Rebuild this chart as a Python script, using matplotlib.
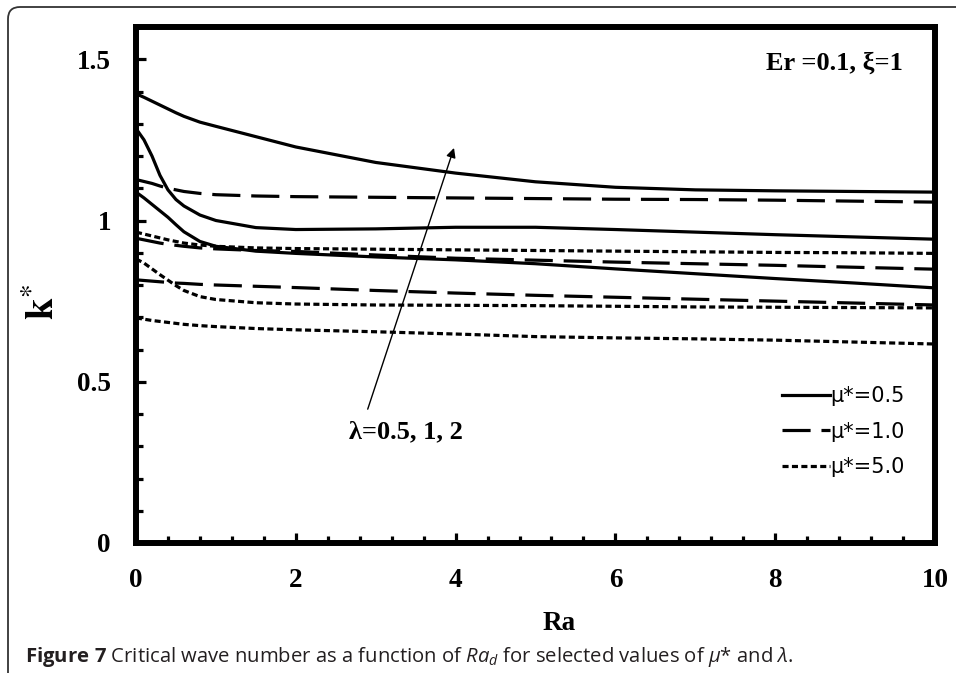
import numpy as np
import matplotlib
matplotlib.use("Agg")
import matplotlib.pyplot as plt
from matplotlib.patches import FancyBboxPatch
from matplotlib.transforms import IdentityTransform
from matplotlib.ticker import MultipleLocator

# Critical wave number k* versus Ra for mu* = 0.5, 1.0, 5.0 and lambda = 0.5, 1, 2
ra = [0, 0.1, 0.2, 0.3, 0.4, 0.5, 0.6, 0.8, 1.0, 1.5, 2, 3, 4, 5, 6, 7, 8, 9, 10]

# mu* = 0.5 (solid)
mu05_lam05 = [1.088, 1.070, 1.050, 1.030, 1.010, 0.987, 0.965, 0.935, 0.920, 0.905,
              0.898, 0.887, 0.878, 0.866, 0.850, 0.835, 0.820, 0.806, 0.791]
mu05_lam1 = [1.285, 1.250, 1.200, 1.140, 1.095, 1.065, 1.045, 1.017, 1.000, 0.978,
             0.972, 0.974, 0.979, 0.979, 0.972, 0.964, 0.956, 0.949, 0.942]
mu05_lam2 = [1.393, 1.382, 1.370, 1.358, 1.346, 1.334, 1.323, 1.305, 1.292, 1.260,
             1.228, 1.180, 1.147, 1.120, 1.103, 1.095, 1.092, 1.090, 1.088]

# mu* = 1.0 (dashed)
mu10_lam05 = [0.816, 0.814, 0.812, 0.810, 0.808, 0.806, 0.805, 0.802, 0.800, 0.796,
              0.792, 0.783, 0.775, 0.768, 0.762, 0.756, 0.750, 0.744, 0.738]
mu10_lam1 = [0.945, 0.940, 0.935, 0.930, 0.926, 0.923, 0.920, 0.915, 0.912, 0.907,
             0.904, 0.893, 0.883, 0.877, 0.871, 0.866, 0.861, 0.855, 0.849]
mu10_lam2 = [1.127, 1.121, 1.115, 1.107, 1.100, 1.095, 1.090, 1.084, 1.080, 1.076,
             1.074, 1.072, 1.070, 1.068, 1.066, 1.065, 1.063, 1.060, 1.057]

# mu* = 5.0 (dotted)
mu50_lam05 = [0.698, 0.694, 0.690, 0.687, 0.684, 0.681, 0.678, 0.674, 0.671, 0.665,
              0.661, 0.655, 0.648, 0.640, 0.636, 0.633, 0.629, 0.623, 0.617]
mu50_lam1 = [0.881, 0.868, 0.850, 0.832, 0.815, 0.798, 0.783, 0.764, 0.755, 0.745,
             0.741, 0.738, 0.737, 0.736, 0.734, 0.732, 0.731, 0.730, 0.729]
mu50_lam2 = [0.964, 0.958, 0.952, 0.946, 0.940, 0.935, 0.930, 0.924, 0.920, 0.915,
             0.913, 0.911, 0.909, 0.907, 0.905, 0.903, 0.901, 0.900, 0.898]

legend_labels = ["\u03bc*=0.5", "\u03bc*=1.0", "\u03bc*=5.0"]

plt.rcParams["mathtext.fontset"] = "custom"
plt.rcParams["mathtext.rm"] = "Open Sans"
plt.rcParams["mathtext.it"] = "Open Sans:italic"
plt.rcParams["mathtext.bf"] = "Open Sans:bold"

serif = "Liberation Serif"

fig = plt.figure(figsize=(9.56, 6.73), dpi=100)
ax = fig.add_axes([136 / 956, 1 - 543 / 673, (935 - 136) / 956, (543 - 27) / 673])

lw = 2.3
solid = dict(color="black", lw=lw, linestyle="-")
dashed = dict(color="black", lw=lw, linestyle=(0, (8.8, 3.4)))
dotted = dict(color="black", lw=lw, linestyle=(0, (1.9, 1.05)))

ax.plot(ra, mu05_lam05, **solid, label=legend_labels[0])
ax.plot(ra, mu05_lam1, **solid)
ax.plot(ra, mu05_lam2, **solid)
ax.plot(ra, mu10_lam05, **dashed, label=legend_labels[1])
ax.plot(ra, mu10_lam1, **dashed)
ax.plot(ra, mu10_lam2, **dashed)
ax.plot(ra, mu50_lam05, **dotted, label=legend_labels[2])
ax.plot(ra, mu50_lam1, **dotted)
ax.plot(ra, mu50_lam2, **dotted)

ax.set_xlim(0, 10)
ax.set_ylim(0, 1.6)
ax.xaxis.set_major_locator(MultipleLocator(2))
ax.xaxis.set_minor_locator(MultipleLocator(0.4))
ax.yaxis.set_minor_locator(MultipleLocator(0.1))
ax.set_yticks([0, 0.5, 1, 1.5])
ax.set_yticklabels(["0", "0.5", "1", "1.5"])

for sp in ax.spines.values():
    sp.set_linewidth(4.3)
ax.tick_params(which="both", direction="in", top=False, right=False, width=2.3)
ax.tick_params(which="major", length=7.5)
ax.tick_params(which="minor", length=5)
ax.tick_params(axis="y", which="major", pad=18)
ax.tick_params(axis="x", which="major", pad=18)
for lab in ax.get_xticklabels() + ax.get_yticklabels():
    lab.set_fontfamily(serif)
    lab.set_fontweight("bold")
    lab.set_fontsize(19.5)

# axis titles
fig.text(43, 673 - 302, r"$\mathbf{k}^{*}$", transform=IdentityTransform(),
         rotation=90, fontsize=28, ha="center", va="center",
         math_fontfamily="stix")
fig.text(559, 673 - 624, "Ra", transform=IdentityTransform(), fontsize=19.5,
         family=serif, fontweight="bold", ha="center", va="center")

ax.text(0.96, 0.93, "Er =0.1, \u03be=1", transform=ax.transAxes, fontsize=19,
        family=serif, fontweight="bold", ha="right", va="center")

ax.annotate("", xy=(3.98, 1.225), xytext=(2.9, 0.415),
            arrowprops=dict(arrowstyle="-|>", color="black", lw=1.0,
                            mutation_scale=14, shrinkA=0, shrinkB=0))
ax.text(3.375, 0.345, "\u03bb=0.5, 1, 2", fontsize=19, family=serif,
        fontweight="bold", ha="center", va="center")

leg = ax.legend(loc="upper left", bbox_to_anchor=(0.808, 0.304), frameon=False,
                prop=dict(family="DejaVu Sans", size=15), handlelength=2.3,
                handletextpad=0.05, labelspacing=0.75, borderpad=0,
                borderaxespad=0)

# page frame with rounded top-left corner
frame = FancyBboxPatch((8, -60), 1100, 673 - 7 + 60,
                       boxstyle="round,pad=0,rounding_size=12",
                       transform=IdentityTransform(), fill=False,
                       edgecolor="#333333", lw=1.3)
fig.patches.append(frame)

fig.text(25, 673 - 657,
         r"$\mathbf{Figure\ 7}$ Critical wave number as a function of $Ra_d$"
         r" for selected values of $\mu$* and $\lambda$.",
         transform=IdentityTransform(), fontsize=14.6, family="Open Sans",
         color="#231f20", ha="left", va="center")

fig.savefig("out.png", dpi=100)
